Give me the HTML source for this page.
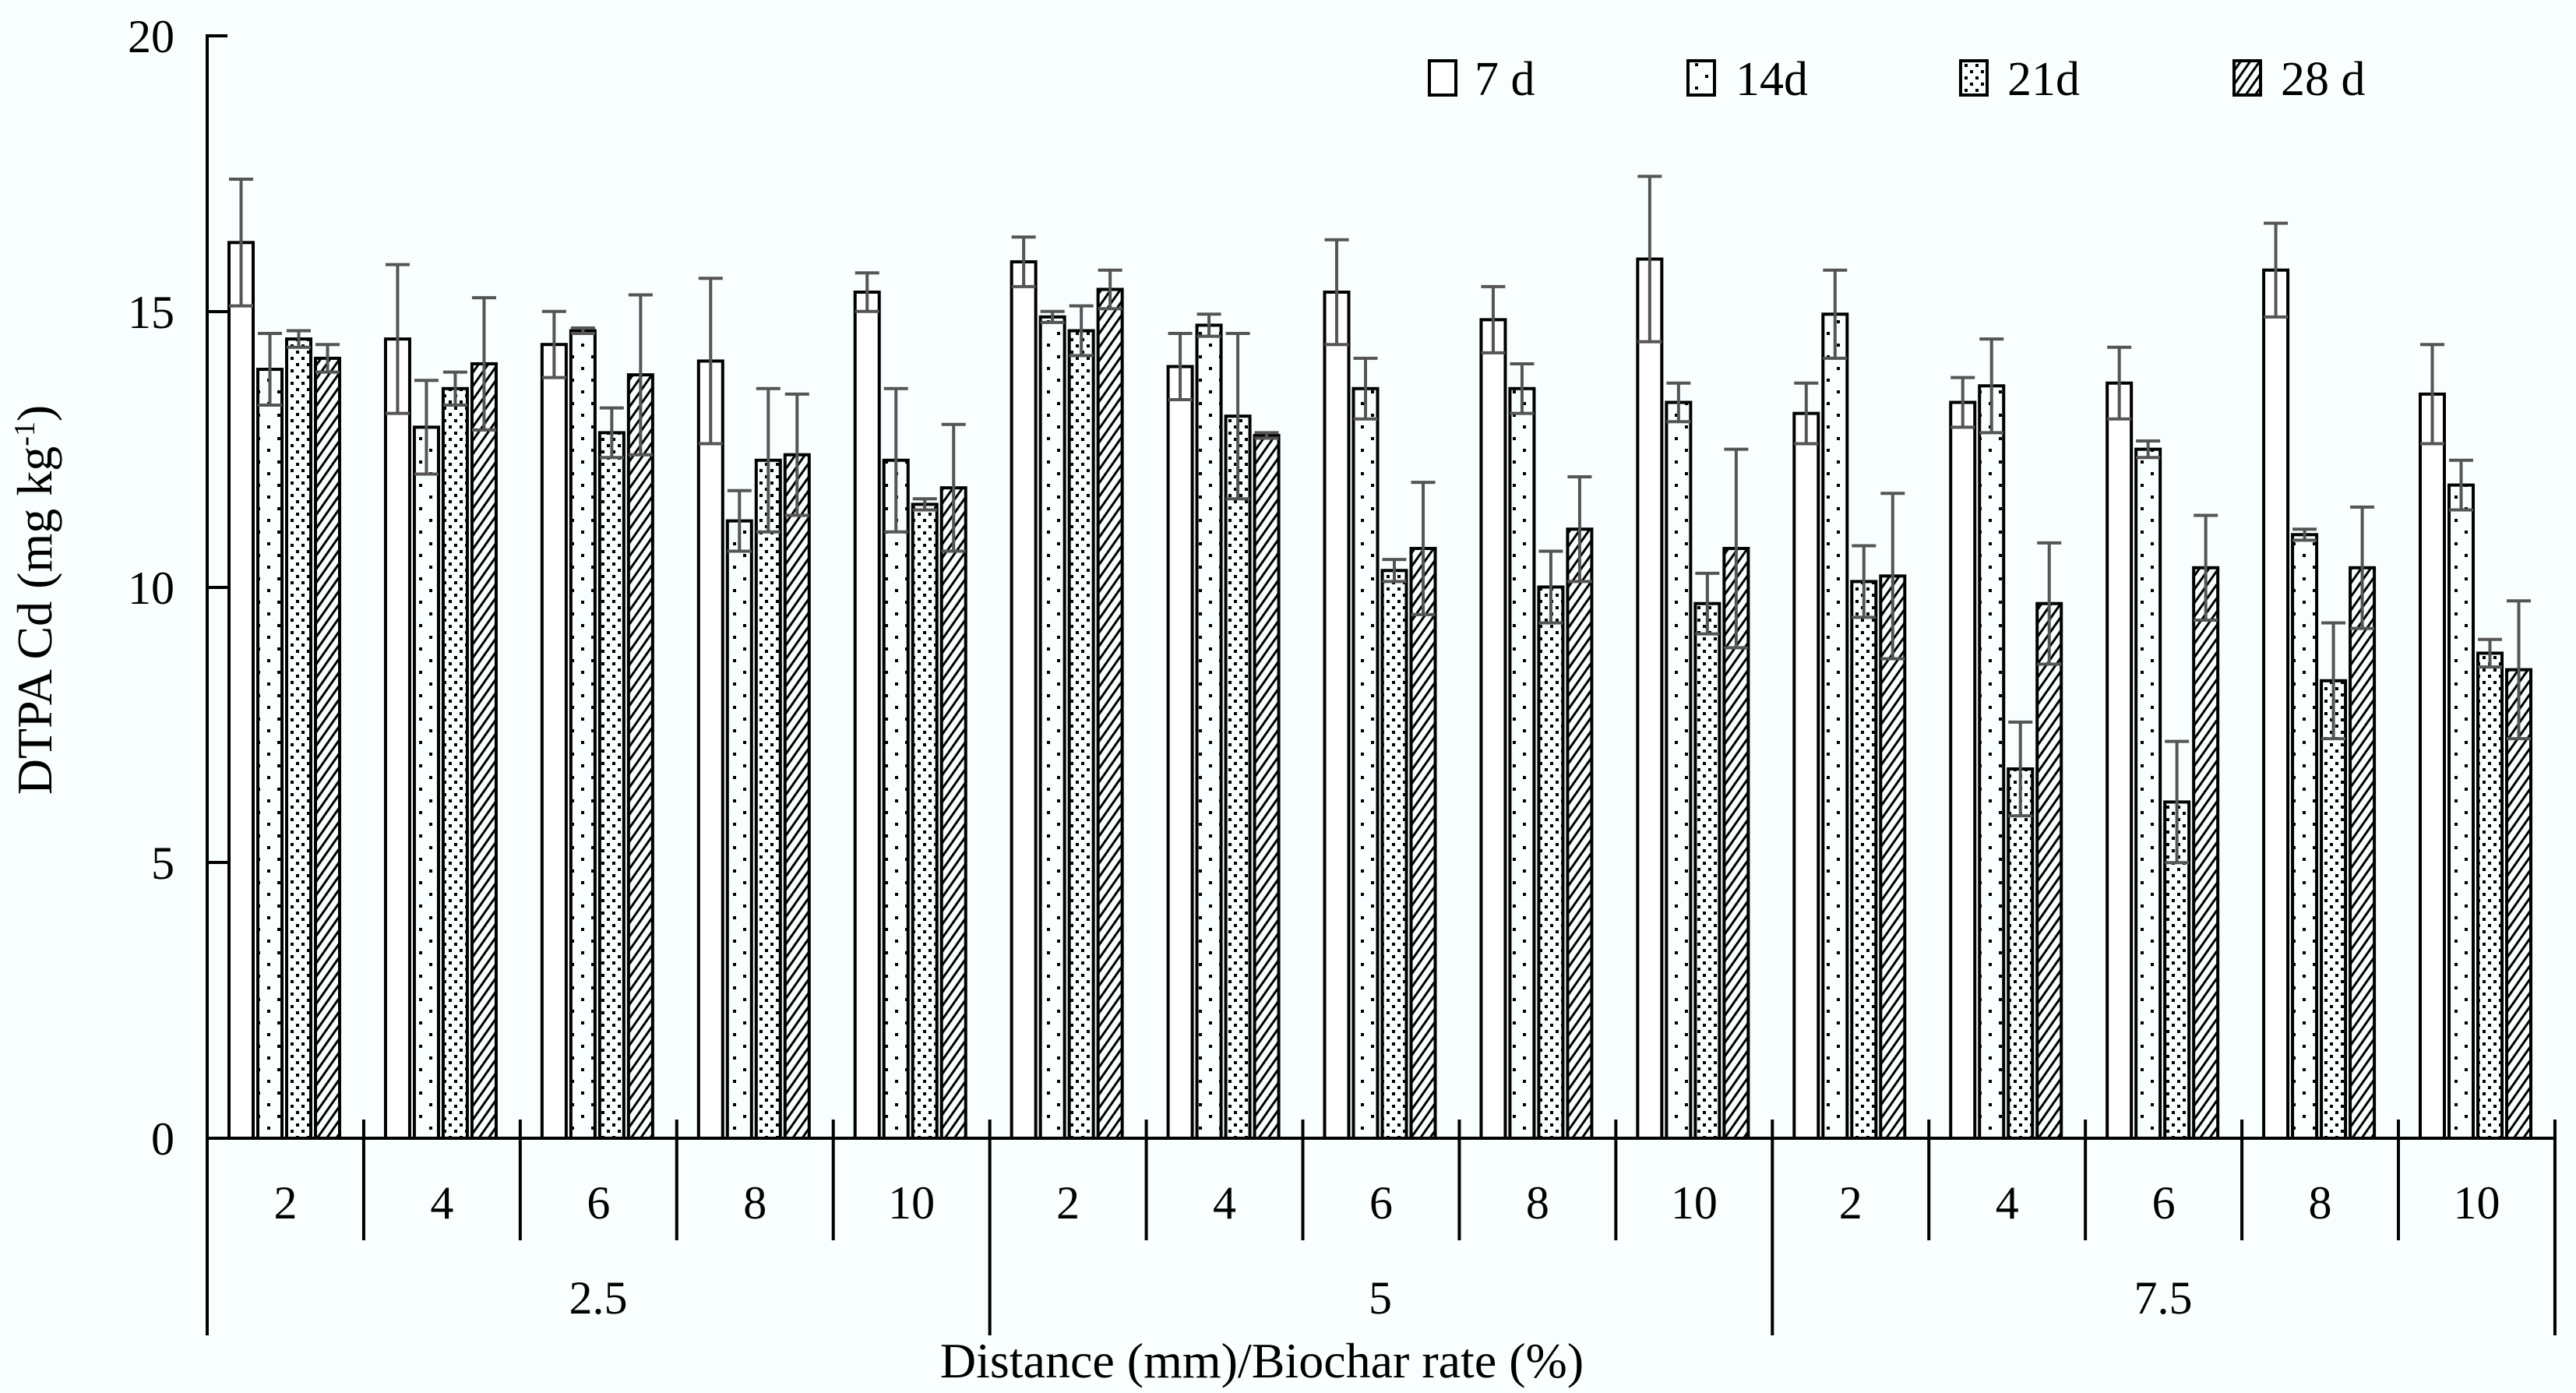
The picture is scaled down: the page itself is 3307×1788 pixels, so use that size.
<!DOCTYPE html>
<html><head><meta charset="utf-8"><style>
html,body{margin:0;padding:0;background:#f9feff;}
svg{display:block;}
text{font-family:"Liberation Serif",serif;fill:#000;}
</style></head><body>
<svg id="s" width="3307" height="1788" viewBox="0 0 3307 1788" xmlns="http://www.w3.org/2000/svg">
<defs>
<pattern id="p2" width="26" height="30" patternUnits="userSpaceOnUse">
<rect x="5" y="6" width="4" height="4" fill="#000"/><rect x="18" y="21" width="4" height="4" fill="#000"/>
</pattern>
<pattern id="p3" width="14" height="16" patternUnits="userSpaceOnUse">
<rect x="2" y="2" width="4" height="4" fill="#000"/><rect x="9" y="10" width="4" height="4" fill="#000"/>
</pattern>
<pattern id="p4" width="10" height="10" patternUnits="userSpaceOnUse" patternTransform="rotate(35)">
<rect x="0" y="0" width="3" height="10" fill="#000"/>
</pattern>
</defs>
<rect width="3307" height="1788" fill="#f9feff"/>
<g id="bars"></g>
<g stroke="#000" stroke-width="4" fill="none" id="axes">
<line x1="266" y1="44" x2="266" y2="1714"/>
<line x1="264" y1="1461" x2="3282" y2="1461"/>
<line x1="266" y1="46" x2="292" y2="46"/>
<line x1="266" y1="400" x2="292" y2="400"/>
<line x1="266" y1="754" x2="292" y2="754"/>
<line x1="266" y1="1107" x2="292" y2="1107"/>
</g>
<g font-size="60" text-anchor="end">
<text x="224" y="67">20</text>
<text x="224" y="421">15</text>
<text x="224" y="775">10</text>
<text x="224" y="1128">5</text>
<text x="224" y="1482">0</text>
</g>
<text font-size="64" transform="translate(66,770) rotate(-90)" text-anchor="middle">DTPA Cd (mg kg<tspan font-size="38" dy="-22">-1</tspan><tspan dy="22">)</tspan></text>
<g font-size="60" text-anchor="middle" id="xl"></g>
<g font-size="60" text-anchor="middle">
<text x="768" y="1686">2.5</text>
<text x="1772" y="1686">5</text>
<text x="2777" y="1686">7.5</text>
<text font-size="64" x="1620" y="1768">Distance (mm)/Biochar rate (%)</text>
</g>
<g stroke="#000" stroke-width="4">
<rect x="1835" y="78" width="34" height="44" fill="#fff"/>
<rect x="2167" y="78" width="34" height="44" fill="url(#p2)"/>
<rect x="2517" y="78" width="34" height="44" fill="url(#p3)"/>
<rect x="2868" y="78" width="34" height="44" fill="url(#p4)"/>
</g>
<g font-size="62">
<text x="1893" y="122">7 d</text>
<text x="2228" y="122">14d</text>
<text x="2577" y="122">21d</text>
<text x="2928" y="122">28 d</text>
</g>
</svg>
<script>
var D=[[16.25,1.15,13.95,0.65,14.5,0.15,14.15,0.25],
[14.5,1.35,12.9,0.85,13.6,0.3,14.05,1.2],
[14.4,0.6,14.65,0.05,12.8,0.45,13.85,1.45],
[14.1,1.5,11.2,0.55,12.3,1.3,12.4,1.1],
[15.35,0.35,12.3,1.3,11.5,0.1,11.8,1.15],
[15.9,0.45,14.9,0.1,14.65,0.45,15.4,0.35],
[14.0,0.6,14.75,0.2,13.1,1.5,12.75,0.05],
[15.35,0.95,13.6,0.55,10.3,0.2,10.7,1.2],
[14.85,0.6,13.6,0.45,10.0,0.65,11.05,0.95],
[15.95,1.5,13.35,0.35,9.7,0.55,10.7,1.8],
[13.15,0.55,14.95,0.8,10.1,0.65,10.2,1.5],
[13.35,0.45,13.65,0.85,6.7,0.85,9.7,1.1],
[13.7,0.65,12.5,0.15,6.1,1.1,10.35,0.95],
[15.75,0.85,10.95,0.1,8.3,1.05,10.35,1.1],
[13.5,0.9,11.85,0.45,8.8,0.25,8.5,1.25]];
var F=["#fff","url(#p2)","url(#p3)","url(#p4)"];
var Y0=1461,K=70.75,W=200.93,h="",a="",xl="";
var labs=["2","4","6","8","10"];
for(var c=0;c<15;c++){
 var s=266+W*c;
 for(var i=0;i<4;i++){
  var v=D[c][2*i],e=D[c][2*i+1],x=s+28+37*i,y=Y0-v*K;
  h+='<rect x="'+x+'" y="'+y+'" width="31" height="'+(Y0-y)+'" fill="'+F[i]+'" stroke="#000" stroke-width="4"/>';
  var cx=x+15.5,yt=Y0-(v+e)*K,yb=Y0-(v-e)*K;
  h+='<g stroke="#555" stroke-width="4"><line x1="'+cx+'" y1="'+yt+'" x2="'+cx+'" y2="'+yb+'"/><line x1="'+x+'" y1="'+yt+'" x2="'+(x+31)+'" y2="'+yt+'"/><line x1="'+x+'" y1="'+yb+'" x2="'+(x+31)+'" y2="'+yb+'"/></g>';
 }
 xl+='<text x="'+(s+W/2)+'" y="1564">'+labs[c%5]+'</text>';
}
for(var k=1;k<=15;k++){
 var x=266+W*k,yb=(k%5==0)?1714:1592;
 a+='<line x1="'+x+'" y1="1437" x2="'+x+'" y2="'+yb+'"/>';
}
document.getElementById("bars").innerHTML=h;
document.getElementById("axes").insertAdjacentHTML("beforeend",a);
document.getElementById("xl").innerHTML=xl;
</script>
</body></html>
